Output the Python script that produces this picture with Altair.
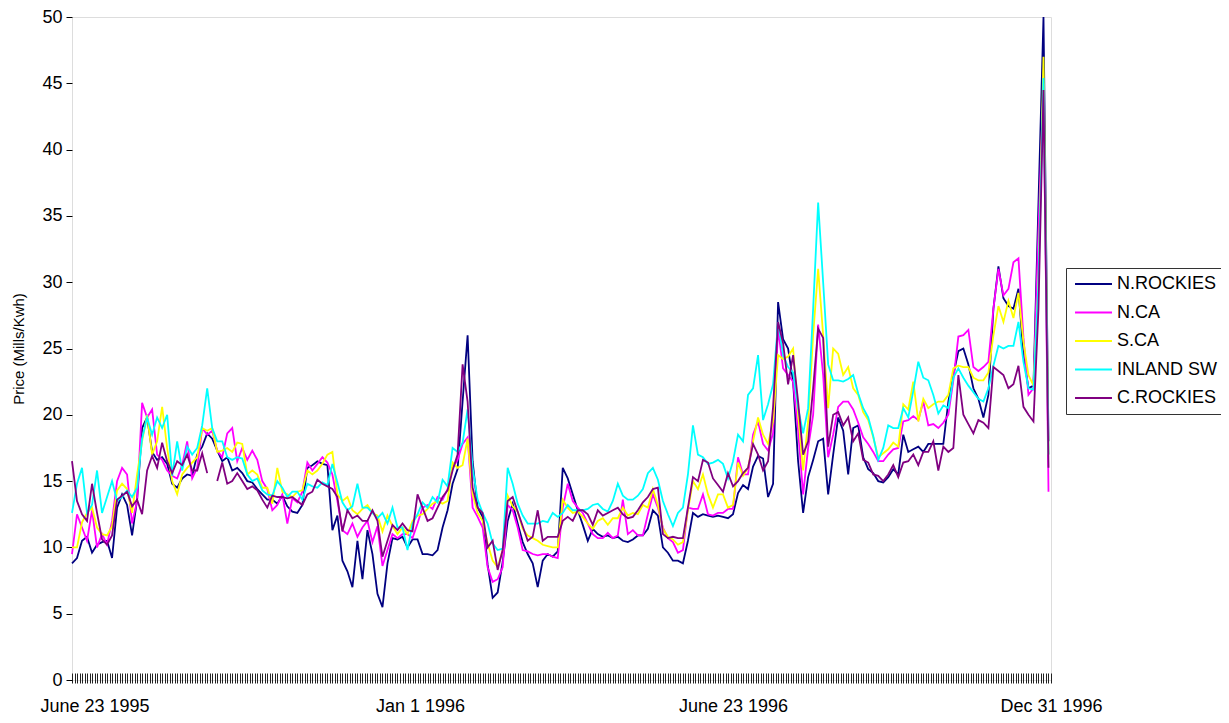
import altair as alt
import pandas as pd

series_names = ["N.ROCKIES", "N.CA", "S.CA", "INLAND SW", "C.ROCKIES"]
series_colors = ["#000080", "#FF00FF", "#FFFF00", "#00FFFF", "#800080"]

n_rockies = [
    8.8, 9.2, 10.5, 10.8, 9.6, 10.2, 10.4, 10.5, 9.2, 13.0, 14.0, 13.2, 10.9, 13.6, 19.0, 19.8, 17.2,
    16.6, 16.8, 16.3, 14.8, 14.5, 15.2, 15.5, 15.4, 17.0, 17.6, 18.6, 18.2, 17.3, 16.5, 16.8, 15.8, 16.0,
    15.6, 15.0, 14.9, 14.4, 14.0, 13.6, 13.6, 13.3, 13.9, 13.1, 12.7, 12.6, 13.2, 16.0, 16.2, 16.5, 16.3,
    16.2, 11.3, 12.4, 9.0, 8.2, 7.0, 10.5, 7.6, 11.3, 9.5, 6.5, 5.5, 8.8, 10.7, 10.6, 10.8,
    10.0, 10.6, 10.6, 9.5, 9.5, 9.4, 9.8, 11.5, 12.8, 14.8, 15.9, 21.0, 26.0, 16.5, 13.0, 12.3, 8.7,
    6.2, 6.6, 8.9, 12.0, 13.3, 11.8, 10.4, 9.5, 8.8, 7.0, 9.0, 9.5, 9.3, 9.7, 16.0, 15.2,
    14.0, 12.8, 11.7, 10.5, 11.4, 11.0, 10.8, 10.9, 10.7, 10.8, 10.5, 10.4, 10.6, 10.9, 10.9, 11.4, 12.8,
    12.4, 10.0, 9.6, 9.0, 9.0, 8.8, 10.5, 12.6, 12.3, 12.5, 12.4, 12.3, 12.4, 12.3, 12.2, 12.5,
    14.1, 14.7, 14.4, 16.1, 16.9, 16.7, 13.8, 14.8, 28.5, 25.7, 25.0, 22.5, 16.5, 12.6, 15.3, 16.6, 18.0,
    18.2, 14.0, 17.0, 19.8, 18.8, 15.5, 19.0, 19.2, 16.8, 15.9, 15.6, 15.0, 14.9, 15.3, 15.9, 15.5,
    18.5, 17.2, 17.4, 17.6, 17.2, 17.8, 17.8, 17.8, 17.8, 21.0, 23.0, 24.8, 25.0, 23.8, 22.0, 21.2, 19.8,
    21.5, 28.0, 31.2, 28.8, 28.2, 28.0, 29.5, 24.5, 22.0, 22.2, 36.0, 50.0, 18.0,
]

n_ca = [
    9.5, 12.5, 11.5, 10.5, 12.8, 10.0, 11.0, 10.2, 12.0, 15.0, 16.0, 15.5, 11.8, 13.5, 20.9, 19.8, 20.4,
    17.0, 16.6, 15.8, 15.4, 15.2, 16.2, 18.0, 15.2, 16.0, 19.0, 18.5, 18.8, 17.3, 16.8, 18.6, 19.0, 16.5,
    17.5, 16.6, 17.3, 16.6, 15.0, 14.4, 12.8, 13.2, 14.0, 11.8, 13.7, 13.4, 14.2, 16.4, 15.8, 16.3, 16.8,
    16.4, 15.5, 13.5, 11.3, 11.0, 11.8, 10.8, 11.5, 12.0, 10.4, 11.6, 8.6, 9.8, 11.0, 10.7, 11.0,
    11.0, 10.7, 11.8, 13.0, 13.2, 12.9, 13.8, 13.6, 14.4, 16.0, 16.6, 17.8, 18.3, 13.0, 12.3, 11.5, 8.5,
    7.4, 7.6, 8.5, 13.2, 12.8, 11.5, 9.8, 9.7, 9.5, 9.4, 9.5, 9.5, 9.3, 9.2, 13.0, 14.8,
    13.5, 13.0, 12.6, 11.8, 11.0, 10.7, 10.7, 11.1, 10.7, 10.9, 13.6, 11.0, 11.3, 10.9, 10.9, 12.5, 14.0,
    13.0, 11.5, 10.7, 10.4, 9.6, 9.8, 13.0, 12.9, 12.9, 14.0, 12.5, 12.4, 12.6, 12.6, 12.9, 12.9,
    16.8, 15.5, 15.5, 18.5, 19.5, 17.8, 17.3, 18.6, 26.5, 23.5, 23.0, 22.5, 18.8, 14.0, 17.5, 20.0, 26.8,
    23.0, 16.8, 18.5, 20.6, 21.0, 21.0, 20.4, 19.4, 18.3, 17.8, 17.2, 16.5, 16.5, 17.0, 17.4, 17.5,
    19.5, 19.6, 19.9, 19.6, 21.0, 19.2, 19.3, 19.0, 19.4, 20.0, 22.6, 25.9, 26.0, 26.4, 23.6, 23.3, 23.6,
    24.0, 28.0, 31.0, 29.0, 29.5, 31.5, 31.8, 25.8, 21.5, 22.0, 34.0, 45.0, 14.2,
]

s_ca = [
    10.0, 10.0, 11.9, 12.6, 13.0, 11.5, 11.0, 10.9, 11.6, 14.3, 14.8, 14.4, 12.6, 15.5, 18.0, 20.0, 17.0,
    18.0, 20.6, 17.5, 15.0, 14.0, 15.5, 16.0, 16.4, 16.8, 19.0, 18.8, 19.0, 17.2, 17.3, 17.5, 17.2, 17.9,
    17.8, 15.5, 15.8, 15.5, 14.5, 14.5, 13.3, 16.0, 14.2, 14.0, 13.8, 14.2, 14.3, 15.8, 15.5, 15.8, 16.3,
    17.0, 17.2, 14.0, 13.5, 13.8, 12.8, 12.5, 12.9, 13.2, 12.6, 12.4, 11.2, 12.4, 11.6, 11.0, 11.5,
    11.0, 12.0, 12.4, 12.5, 12.9, 13.3, 13.5, 13.3, 13.5, 16.4, 16.0, 16.2, 18.2, 14.0, 12.6, 12.0, 10.3,
    9.0, 8.5, 9.8, 13.9, 13.1, 12.7, 11.4, 10.9, 10.7, 10.5, 10.2, 10.1, 10.0, 10.0, 13.6, 13.0,
    12.6, 12.7, 12.3, 11.8, 11.4, 12.0, 12.2, 11.7, 12.2, 12.2, 13.0, 12.4, 12.6, 12.5, 13.2, 13.0, 14.4,
    13.2, 11.4, 10.8, 10.6, 10.2, 10.4, 12.8, 15.0, 14.4, 15.5, 14.0, 13.0, 14.0, 14.0, 13.0, 13.2,
    16.4, 15.4, 16.0, 18.0, 19.8, 18.5, 17.8, 19.5, 24.5, 24.2, 24.4, 25.0, 20.0, 15.8, 19.5, 26.0, 31.0,
    26.0, 20.5, 25.0, 24.6, 23.0, 23.6, 22.0, 21.5, 20.2, 19.6, 18.3, 16.8, 17.1, 17.4, 17.9, 17.6,
    20.8, 20.4, 22.5, 19.5, 21.2, 20.5, 20.8, 21.0, 21.0, 21.5, 23.5, 23.7, 23.6, 23.6, 22.8, 22.6, 22.6,
    23.2, 26.0, 28.2, 27.0, 28.6, 27.3, 29.2, 25.5, 23.0, 22.2, 30.0, 47.0, 17.0,
]

inland_sw = [
    12.6, 14.8, 16.0, 12.6, 13.2, 15.8, 12.6, 13.8, 15.0, 13.5, 13.8, 14.3, 13.8, 14.5, 18.2, 19.8, 18.5,
    19.8, 19.0, 20.0, 15.4, 18.0, 15.8, 17.6, 17.0, 17.5, 19.2, 22.0, 19.0, 18.0, 18.0, 16.8, 16.6, 16.8,
    16.7, 15.5, 15.0, 15.2, 14.3, 14.0, 13.9, 15.0, 14.5, 13.8, 14.2, 14.2, 13.6, 14.8, 14.6, 14.5, 14.9,
    14.7, 16.3, 14.9, 13.4, 12.8, 13.1, 14.8, 13.0, 13.0, 12.6, 12.2, 12.6, 11.8, 13.0, 11.5, 11.5,
    9.8, 11.8, 12.5, 13.4, 13.0, 13.8, 13.4, 15.1, 14.6, 17.5, 17.2, 17.9, 20.4, 16.0, 13.6, 12.6, 11.8,
    10.3, 9.8, 9.9, 16.0, 14.8, 13.3, 12.4, 11.8, 11.8, 11.8, 12.0, 11.9, 12.6, 12.3, 12.6, 13.2,
    12.8, 12.8, 12.8, 12.9, 13.2, 13.3, 12.9, 12.7, 13.5, 14.8, 13.9, 13.6, 13.6, 13.9, 14.4, 15.6, 16.0,
    15.1, 13.5, 12.5, 11.6, 12.6, 13.0, 15.5, 19.2, 17.0, 16.8, 16.3, 16.4, 16.6, 16.3, 15.2, 16.5,
    18.5, 18.0, 21.5, 22.0, 24.5, 19.6, 20.8, 22.3, 27.0, 24.5, 23.6, 23.2, 20.5, 18.6, 20.5, 28.0, 36.0,
    30.0, 23.8, 22.6, 22.6, 22.5, 22.7, 23.0, 21.6, 20.5, 19.8, 18.4, 16.6, 17.5, 19.2, 19.0, 19.0,
    20.5, 19.8, 21.8, 24.0, 22.8, 22.6, 21.5, 20.1, 20.7, 20.5, 22.8, 23.5, 22.8, 22.2, 21.7, 21.2, 21.0,
    22.0, 23.7, 25.2, 25.0, 25.2, 25.2, 27.0, 24.0, 22.0, 21.9, 30.0, 45.4, 17.0,
]

c_rockies = [
    16.5, 13.5, 12.5, 12.0, 14.8, 12.6, 10.6, 10.2, 10.9, 13.6, 13.9, 14.2, 13.1, 13.6, 12.5, 15.8, 16.9,
    16.0, 17.9, 16.5, 15.6, 16.5, 16.2, 17.0, 15.8, 15.8, 17.1, 15.6, None, 15.0, 16.4, 14.8, 15.0, 15.6,
    15.0, 14.4, 14.6, 14.3, 13.6, 13.0, 13.9, 13.8, 13.8, 13.7, 13.8, 13.5, 13.2, 14.0, 14.2, 15.1, 14.8,
    14.6, 14.4, 13.8, 11.2, 12.8, 12.2, 12.4, 12.0, 12.0, 12.8, 12.0, 9.3, 10.5, 11.7, 11.3, 11.8,
    11.3, 11.2, 14.0, 13.0, 12.0, 12.2, 13.0, 13.8, 14.3, 15.8, 17.0, 23.8, 21.0, 14.5, 13.0, 12.6, 10.0,
    10.5, 8.3, 9.8, 13.5, 13.8, 12.7, 11.6, 10.5, 10.8, 12.8, 10.5, 10.8, 10.8, 10.8, 12.0, 12.3,
    12.0, 12.8, 12.8, 12.5, 11.7, 12.8, 12.4, 12.6, 12.8, 13.0, 12.5, 12.2, 12.3, 12.8, 13.4, 13.8, 14.4,
    14.5, 11.0, 10.7, 10.8, 10.7, 10.7, 13.0, 15.3, 15.0, 16.6, 16.4, 15.2, 14.7, 14.2, 15.6, 14.6,
    15.0, 15.6, 16.0, 17.8, 17.0, 15.8, 16.5, 20.6, 27.0, 25.4, 22.3, 24.5, 21.0, 17.0, 18.0, 22.0, 26.5,
    25.8, 17.6, 20.0, 20.2, 19.2, 19.8, 18.0, 18.6, 16.6, 16.4, 15.5, 15.4, 15.0, 15.5, 16.2, 15.3,
    16.4, 16.5, 17.0, 16.2, 17.2, 17.2, 18.0, 15.8, 17.6, 17.2, 17.5, 23.0, 20.0, 19.3, 18.6, 19.6, 19.4,
    19.0, 23.6, 23.3, 23.0, 22.0, 22.3, 23.7, 20.6, 20.0, 19.5, 28.0, 44.5, 16.0,
]

# category axis: one tick per trading day, labels at these day positions
n_days = 392
tick_label_pos = [9, 139, 264, 391]
tick_label_text = ["June 23 1995", "Jan 1 1996", "June 23 1996", "Dec 31 1996"]
y_ticks = [0, 5, 10, 15, 20, 25, 30, 35, 40, 45, 50]

rows = []
for name, vals in zip(series_names, [n_rockies, n_ca, s_ca, inland_sw, c_rockies]):
    for i, v in enumerate(vals):
        rows.append({"day": 2 * i, "series": name, "price": v})
df = pd.DataFrame(rows)

label_expr = " : ".join(
    f"datum.value == {p} ? '{t}'" for p, t in zip(tick_label_pos, tick_label_text)
) + " : ''"

FONT = "Liberation Sans"

chart = (
    alt.Chart(df)
    .mark_line(strokeWidth=1.8, invalid="break-paths-filter-domains")
    .encode(
        x=alt.X(
            "day:Q",
            scale=alt.Scale(domain=[0, n_days - 1], nice=False, zero=False),
            axis=alt.Axis(
                values=list(range(n_days)),
                labelExpr=label_expr,
                labelOverlap=False,
                labelFlush=False,
                labelBound=False,
                tickSize=10,
                tickColor="#222222",
                tickWidth=1,
                offset=-7,
                domain=False,
                grid=False,
                labelFont=FONT,
                labelFontSize=18,
                labelColor="#000000",
                labelPadding=14,
                title=None,
            ),
        ),
        y=alt.Y(
            "price:Q",
            scale=alt.Scale(domain=[0, 50], nice=False),
            axis=alt.Axis(
                values=y_ticks,
                title="Price (Mills/Kwh)",
                titleFont=FONT,
                titleFontSize=15,
                titleFontWeight="normal",
                titleColor="#000000",
                titlePadding=15,
                labelFont=FONT,
                labelFontSize=18,
                labelColor="#000000",
                labelPadding=4,
                tickSize=6,
                tickColor="#000000",
                tickWidth=1,
                domain=False,
                grid=False,
            ),
        ),
        color=alt.Color(
            "series:N",
            scale=alt.Scale(domain=series_names, range=series_colors),
            title=None,
            legend=alt.Legend(
                orient="none",
                legendX=994,
                legendY=251,
                symbolType="M-2.64,0H2.64",
                symbolSize=196,
                symbolStrokeWidth=2,
                symbolOffset=11.5,
                labelOffset=14.5,
                labelFont=FONT,
                labelFontSize=18,
                labelColor="#000000",
                labelLimit=250,
                rowPadding=10.5,
                padding=7,
                strokeColor="#333333",
                fillColor="#ffffff",
            ),
        ),
    )
    .properties(
        width=979,
        height=663,
        autosize=alt.AutoSizeParams(type="none"),
        padding={"left": 64, "top": 9, "right": 170, "bottom": 35},
    )
    .configure_view(stroke="#000000", strokeWidth=2)
    .configure(background="#ffffff")
)

chart.save("out.html", embed_options={"renderer": "svg", "actions": False})
